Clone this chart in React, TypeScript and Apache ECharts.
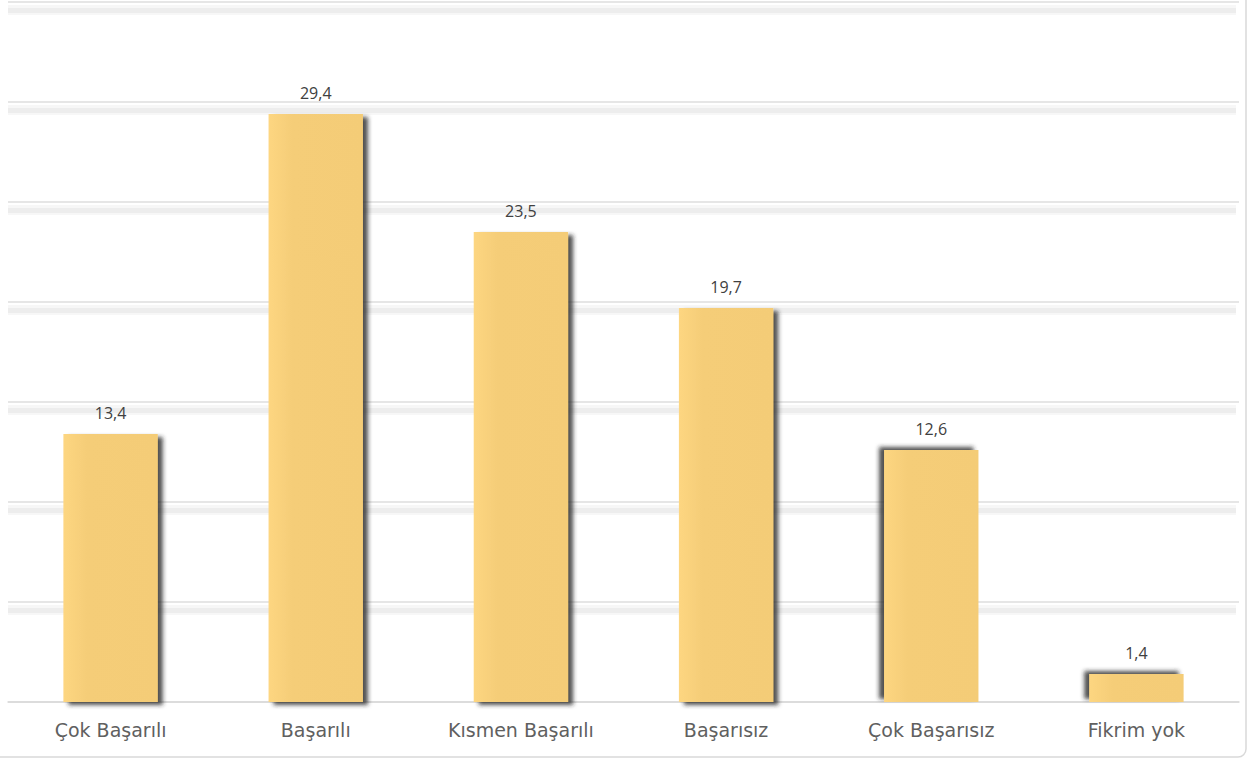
import React, { useEffect, useRef } from "react";
import * as echarts from "echarts";

const categories = ["Çok Başarılı", "Başarılı", "Kısmen Başarılı", "Başarısız", "Çok Başarısız", "Fikrim yok"];
const values = [13.4, 29.4, 23.5, 19.7, 12.6, 1.4];
const shadowSide = [1, 1, 1, 1, -1, -1];
const yMax = 35;
const yInterval = 5;

export default function App() {
  const ref = useRef<HTMLDivElement>(null);
  useEffect(() => {
    document.body.style.margin = "0";
    const chart = echarts.init(ref.current!, null, { renderer: "svg" });
    const hiddenAxis = { axisLabel: { show: false }, axisLine: { show: false }, axisTick: { show: false } };
    const shadowY = (gi: number, color: string, width: number) => ({
      type: "value",
      gridIndex: gi,
      min: yInterval,
      max: yMax,
      interval: yInterval,
      ...hiddenAxis,
      splitLine: { show: true, lineStyle: { color, width } },
    });
    chart.setOption({
      animation: false,
      backgroundColor: "#ffffff",
      grid: [
        { left: 8, right: 9, top: 2, bottom: 56 },
        { left: 8, right: 12, top: 10, bottom: 148 },
        { left: 8, right: 12, top: 10, bottom: 148 },
      ],
      xAxis: [
        {
          type: "category",
          data: categories,
          gridIndex: 0,
          z: 5,
          axisLine: { show: true, lineStyle: { color: "#d9d9d9", width: 1.5 } },
          axisTick: { show: false },
          axisLabel: {
            color: "#606060",
            fontFamily: "DejaVu Sans",
            fontSize: 19,
            margin: 18,
          },
        },
        { type: "category", data: categories, gridIndex: 1, show: false },
        { type: "category", data: categories, gridIndex: 2, show: false },
      ],
      yAxis: [
        {
          type: "value",
          gridIndex: 0,
          min: 0,
          max: yMax,
          interval: yInterval,
          z: 3,
          ...hiddenAxis,
          splitLine: { show: true, lineStyle: { color: "#e6e6e6", width: 2 } },
        },
        shadowY(1, "rgba(0,0,0,0.03)", 10),
        shadowY(2, "rgba(0,0,0,0.04)", 5),
      ],
      series: [
        {
          type: "bar",
          xAxisIndex: 0,
          yAxisIndex: 0,
          z: 10,
          barWidth: "46%",
          data: values.map((v, i) => ({
            value: v,
            itemStyle: {
              color: {
                type: "linear",
                x: 0,
                y: 0,
                x2: 1,
                y2: 0,
                colorStops: [
                  { offset: 0, color: "#FDD681" },
                  { offset: 0.25, color: "#F5CD78" },
                  { offset: 1, color: "#F4CC77" },
                ],
              },
              shadowColor: "rgba(40,40,40,0.8)",
              shadowBlur: 4,
              shadowOffsetX: 5 * shadowSide[i],
              shadowOffsetY: 3 * (shadowSide[i] > 0 ? 1 : -1),
            },
          })),
          label: {
            show: true,
            position: "top",
            distance: 13,
            color: "#404040",
            fontFamily: "Open Sans",
            fontSize: 16,
            formatter: (p: any) => String(p.value).replace(".", ","),
          },
        },
      ],
      graphic: [
        {
          type: "rect",
          shape: { x: -10, y: -10, width: 1256, height: 767, r: 8 },
          style: { fill: "none", stroke: "#d9d9d9", lineWidth: 1.5 },
          silent: true,
        },
      ],
    });
    return () => chart.dispose();
  }, []);
  return <div ref={ref} style={{ width: 1248, height: 758 }} />;
}
